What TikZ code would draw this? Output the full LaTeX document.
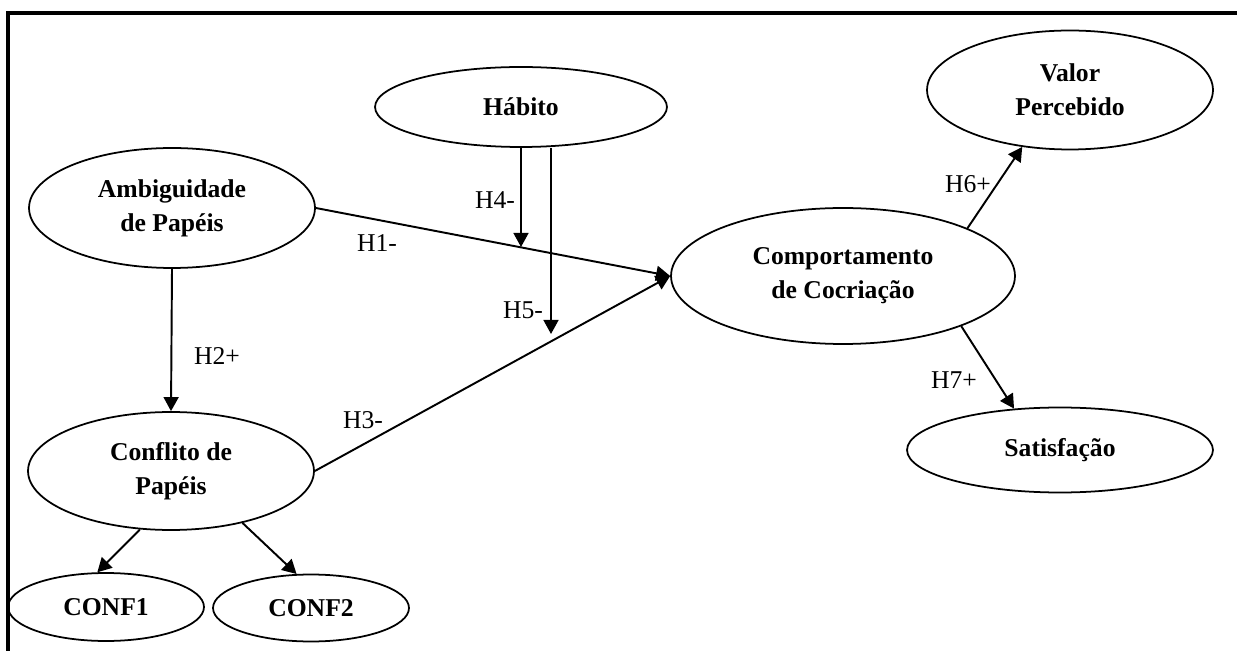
\documentclass[tikz,border=0pt]{standalone}
\usepackage{fontspec}
\setmainfont{Liberation Serif}
\usetikzlibrary{arrows.meta,shapes.geometric}
\tikzset{construct/.style={draw,ellipse,line width=1pt,inner sep=0pt,align=center,font=\fontsize{14.6}{19.3}\selectfont\bfseries},
  hyplabel/.style={inner sep=0pt,font=\fontsize{14.6}{17}\selectfont},
  rel/.style={-{Triangle[length=8pt,width=8.5pt]},line width=1.1pt}}

\begin{document}
\begin{tikzpicture}[x=0.02cm,y=-0.02cm]
    \useasboundingbox (0,0) rectangle (1237,651);
    \draw[line width=1.8pt] (8,651) -- (8,13) -- (1237,13);

    % constructs
    \node[construct,minimum width=5.84cm,minimum height=1.6cm] (hab) at (521,107) {Hábito};
    \node[construct,minimum width=5.72cm,minimum height=2.4cm] (amb) at (172,208) {Ambiguidade\\de Papéis};
    \node[construct,minimum width=5.72cm,minimum height=2.36cm] (conf) at (171,471) {Conflito de\\Papéis};
    \node[construct,minimum width=3.92cm,minimum height=1.36cm] (conf1) at (106,607) {CONF1};
    \node[construct,minimum width=3.92cm,minimum height=1.34cm] (conf2) at (311,608) {CONF2};
    \node[construct,minimum width=6.88cm,minimum height=2.72cm] (comp) at (843,276) {Comportamento\\de Cocriação};
    \node[construct,minimum width=5.72cm,minimum height=2.38cm] (valor) at (1070,90) {Valor\\Percebido};
    \node[construct,minimum width=6.12cm,minimum height=1.7cm] (satis) at (1060,450) {Satisfação};

    \coordinate (h4end) at (521,247);
    \coordinate (h5end) at (551,334);

    \draw[rel] (amb.east) -- (comp.west);
    \draw[rel] (conf.east) -- (comp.west);
    \draw[rel] (amb.south) -- (conf.north);
    \draw[rel] (hab.south) -- (h4end);
    \draw[rel] (h5end |- hab.south) -- (h5end);
    \draw[rel] (comp.21.7) -- (valor.-130);
    \draw[rel] (comp.-23) -- (satis.138);
    \draw[rel] (conf.-118.8) -- (conf1.104);
    \draw[rel] (conf.-36.5) -- (conf2.113);

    % hypotheses
    \foreach \name/\x/\y/\txt in {h1/377/243/H1-,h2/217/356/H2+,h3/363/420/H3-,h4/495/200/H4-,
                                  h5/523/310/H5-,h6/968/184/H6+,h7/954/380/H7+} {
      \node[hyplabel] (\name) at (\x,\y) {\txt};
    }
\end{tikzpicture}
\end{document}
